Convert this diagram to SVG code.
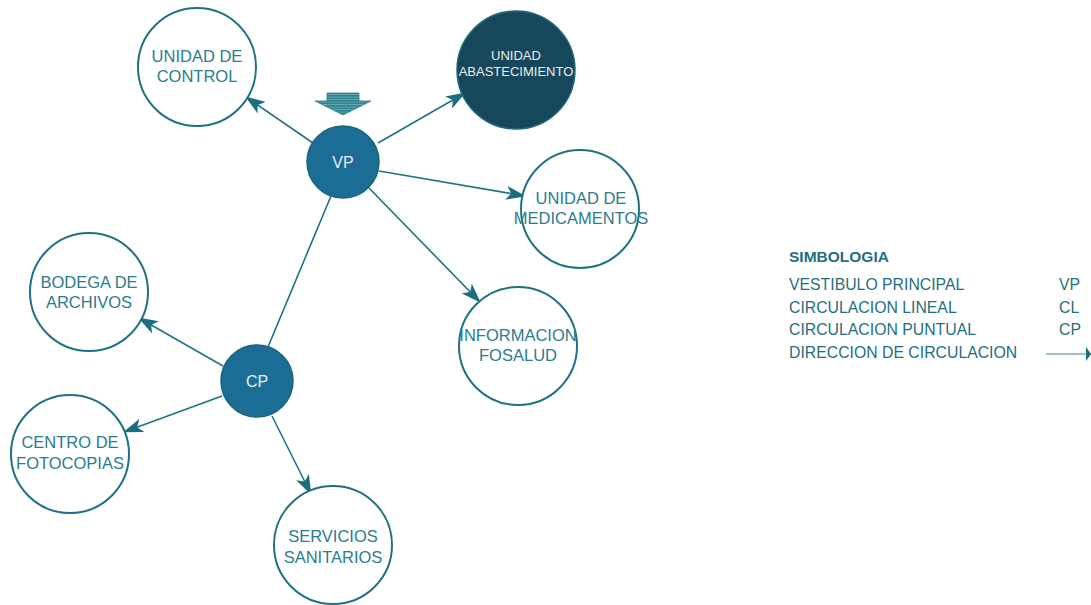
<svg xmlns="http://www.w3.org/2000/svg" width="1091" height="605" viewBox="0 0 1091 605">
<style>
.n{fill:#fff;stroke:#1f7283;stroke-width:2}
.t{font-family:"Liberation Sans",Arial,sans-serif;font-size:16.5px;fill:#2a7d8c;text-anchor:middle}
.hub{fill:#1c6d96;stroke:#1a6478;stroke-width:1.5}
.ht{font-family:"Liberation Sans",Arial,sans-serif;font-size:16px;fill:#e6eef3;text-anchor:middle}
.c{stroke:#1f7283;stroke-width:1.6;fill:none}
.lg{font-family:"Liberation Sans",Arial,sans-serif;font-size:15.8px;fill:#1f6f80}
</style>
<defs>
<marker id="ah" viewBox="0 0 20 14" refX="19" refY="7" markerWidth="20" markerHeight="14" markerUnits="userSpaceOnUse" orient="auto">
<path d="M0,0 L20,7 L0,14 L5,7 Z" fill="#1a6e7e"/>
</marker>
<pattern id="stripe" width="4" height="2.5" patternUnits="userSpaceOnUse">
<rect width="4" height="2.5" fill="#2a7f8c"/>
<rect y="1.6" width="4" height="0.6" fill="#9cc7cf"/>
</pattern>
</defs>
<g id="connectors">
<line class="c" x1="313" y1="143" x2="246" y2="97" marker-end="url(#ah)"/>
<line class="c" x1="378" y1="143" x2="465" y2="93" marker-end="url(#ah)"/>
<line class="c" x1="379" y1="171" x2="525" y2="196" marker-end="url(#ah)"/>
<line class="c" x1="369" y1="188" x2="480" y2="302" marker-end="url(#ah)"/>
<line class="c" x1="331" y1="196" x2="268" y2="347"/>
<line class="c" x1="223" y1="366" x2="139" y2="318" marker-end="url(#ah)"/>
<line class="c" x1="222" y1="396" x2="124" y2="432" marker-end="url(#ah)"/>
<line class="c" x1="272" y1="416" x2="311" y2="494" marker-end="url(#ah)"/>
</g>
<g id="entry-arrow">
<path d="M327,93 H359 V101 H371 L343,115 L315,101 H327 Z" fill="url(#stripe)" stroke="#2a7f8c" stroke-width="0.8"/>
</g>
<g id="unidad-control">
<circle class="n" cx="197" cy="67" r="59"/>
<text class="t" x="197" y="62">UNIDAD DE</text>
<text class="t" x="197" y="82">CONTROL</text>
</g>
<g id="unidad-abastecimiento">
<circle cx="516" cy="70" r="59" fill="#17475a" stroke="#1f6a7a" stroke-width="1.5"/>
<text class="t" x="516" y="60" style="font-size:13px;fill:#e8eef0">UNIDAD</text>
<text class="t" x="516" y="76" style="font-size:13px;fill:#e8eef0">ABASTECIMIENTO</text>
</g>
<g id="unidad-medicamentos">
<circle class="n" cx="580" cy="209" r="59"/>
<text class="t" x="581" y="204">UNIDAD DE</text>
<text class="t" x="581" y="224">MEDICAMENTOS</text>
</g>
<g id="informacion-fosalud">
<circle class="n" cx="518" cy="346" r="59"/>
<text class="t" x="518" y="341">INFORMACION</text>
<text class="t" x="518" y="361">FOSALUD</text>
</g>
<g id="bodega-archivos">
<circle class="n" cx="89" cy="292" r="59"/>
<text class="t" x="89" y="288">BODEGA DE</text>
<text class="t" x="89" y="308">ARCHIVOS</text>
</g>
<g id="centro-fotocopias">
<circle class="n" cx="70" cy="454" r="59"/>
<text class="t" x="70" y="448">CENTRO DE</text>
<text class="t" x="70" y="469">FOTOCOPIAS</text>
</g>
<g id="servicios-sanitarios">
<circle class="n" cx="333" cy="545" r="59"/>
<text class="t" x="333" y="542">SERVICIOS</text>
<text class="t" x="333" y="563">SANITARIOS</text>
</g>
<g id="vp">
<circle class="hub" cx="343" cy="162" r="36"/>
<text class="ht" x="343" y="168">VP</text>
</g>
<g id="cp">
<circle class="hub" cx="257" cy="381" r="36"/>
<text class="ht" x="257" y="387">CP</text>
</g>
<g id="legend">
<text class="lg" x="789" y="262" style="font-weight:bold;font-size:15.5px">SIMBOLOGIA</text>
<text class="lg" x="789" y="290">VESTIBULO PRINCIPAL</text>
<text class="lg" x="789" y="313">CIRCULACION LINEAL</text>
<text class="lg" x="789" y="335">CIRCULACION PUNTUAL</text>
<text class="lg" x="789" y="358">DIRECCION DE CIRCULACION</text>
<text class="lg" x="1059" y="290">VP</text>
<text class="lg" x="1059" y="313">CL</text>
<text class="lg" x="1059" y="335">CP</text>
<line x1="1046" y1="354" x2="1091" y2="354" stroke="#3a8898" stroke-width="1"/>
<path d="M1086,347 L1091,354 L1086,361 Z" fill="#1a6e7e"/>
</g>
</svg>
